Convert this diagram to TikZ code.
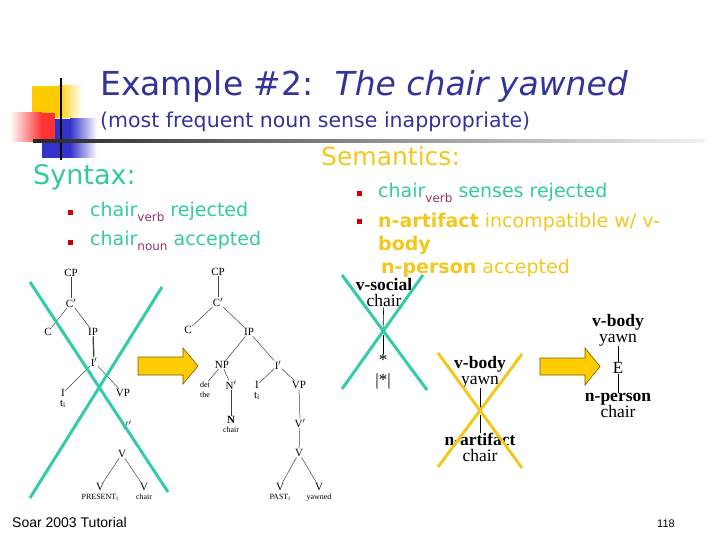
\documentclass[tikz,border=0pt]{standalone}
\usepackage{fontspec}
\setmainfont{Liberation Serif}
\newfontfamily\comicfont{DejaVu Sans}
\newfontfamily\footfont{Liberation Sans}
\usetikzlibrary{positioning}
\definecolor{titlenavy}{HTML}{333399}
\definecolor{syntaxteal}{HTML}{33CC99}
\definecolor{crossteal}{HTML}{33CCAA}
\definecolor{semgold}{HTML}{F2C81E}
\definecolor{subpurple}{HTML}{993366}
\definecolor{bulletred}{HTML}{CC0000}
\definecolor{logoblue}{HTML}{3333CC}
\definecolor{logoyellow}{HTML}{FFCC00}
\definecolor{logored}{HTML}{FF3333}
\newcommand{\subsc}[1]{\textcolor{subpurple}{\raisebox{-5pt}{\fontsize{12}{12}\selectfont #1}}}
\tikzset{
    tlab/.style={inner sep=0.5pt, font=\fontsize{11}{11}\selectfont},
    tleaf/.style={inner sep=0.5pt, font=\fontsize{8}{8}\selectfont},
    tedge/.style={draw=black!75, line width=0.5pt},
    sembox/.style={inner sep=0pt, align=center, font=\fontsize{17.5}{16}\selectfont},
    semword/.style={inner sep=0.5pt, font=\fontsize{17}{17}\selectfont},
    semmark/.style={inner sep=0.5pt, font=\fontsize{6}{6}\selectfont},
    semedge/.style={draw=black, line width=0.6pt},
    bullet/.style={fill=bulletred, inner sep=0pt, minimum size=5pt},
    greencross/.style={draw=crossteal, line width=3pt},
    goldcross/.style={draw=semgold, line width=3pt},
    bigarrow/.style={fill=logoyellow, draw=black!55!logoyellow, line width=0.6pt},
    heading/.style={anchor=base west, inner sep=0pt, font=\comicfont\fontsize{27}{29}\selectfont},
    point/.style={anchor=base west, inner sep=0pt, font=\comicfont\fontsize{19}{21}\selectfont}
}
\begin{document}
\begin{tikzpicture}[x=1pt, y=-1pt]
    \useasboundingbox (0,0) rectangle (720,540);

    % logo and rule
    \fill[logoyellow] (32,86) rectangle (58,118);
    \shade[left color=logoyellow, right color=white] (58,86) rectangle (82,118);
    \fill[logoblue] (42,119) rectangle (70,158);
    \shade[left color=logoblue, right color=white] (70,119) rectangle (97,158);
    \shade[left color=white, right color=logored] (10,113) rectangle (42,142);
    \fill[logored] (42,113) rectangle (55,142);
    \draw[line width=1.5pt] (61,78) -- (61,160);
    \shade[left color=black!85, middle color=black!45, right color=black!5] (33,140) rectangle (705,142.5);

    \node[anchor=base west, inner sep=0pt, text=titlenavy, font=\comicfont\fontsize{33}{35}\selectfont] (title) at (100,96) {Example \#2:\ \ \textit{The chair yawned}};
    \node[anchor=base west, inner sep=0pt, text=titlenavy, font=\comicfont\fontsize{20.5}{23}\selectfont] (subtitle) at (100,128) {(most frequent noun sense inappropriate)};

    % syntax
    \node[heading, text=syntaxteal] (syntax) at (33,185) {Syntax:};
    \node[bullet] (synb1) at (70,213) {};
    \node[bullet] (synb2) at (70,242) {};
    \node[point, text=syntaxteal] (syn1) at (90,217) {chair\subsc{verb} rejected};
    \node[point, text=syntaxteal] (syn2) at (90,245) {chair\subsc{noun} accepted};

    % semantics
    \node[heading, text=semgold, font=\comicfont\fontsize{25}{27}\selectfont] (semantics) at (321,166) {Semantics:};
    \node[bullet] (semb1) at (359,194) {};
    \node[bullet] (semb2) at (359,222) {};
    \node[point, text=syntaxteal] (sem1) at (378,198) {chair\subsc{verb} senses rejected};
    \node[point, text=semgold] (sem2) at (378,227) {\textbf{n-artifact} incompatible w/ v-};
    \node[point, text=semgold] (sem3) at (378,251) {\textbf{body}};
    \node[point, text=semgold] (sem4) at (381,273) {\textbf{n-person} accepted};

    % left parse tree
    \node[tlab] (lCP) at (71,273) {CP};
    \node[tlab] (lCb) at (71,303) {C$'$};
    \node[tlab] (lC) at (48,332) {C};
    \node[tlab] (lIP) at (93,332) {IP};
    \node[tlab] (lIb) at (94,362) {I$'$};
    \node[tlab] (lI) at (63,393) {I};
    \node[tlab, below=2pt of lI] (lti) {t\textsubscript{i}};
    \node[tlab] (lVP) at (123,393) {VP};
    \node[tlab] (lVb) at (126,425) {V$'$};
    \node[tlab] (lV) at (122,454) {V};
    \node[tlab] (lVa) at (100,487) {V};
    \node[tleaf, below=2pt of lVa] (lpres) {PRESENT\textsubscript{i}};
    \node[tlab] (lVc) at (144,487) {V};
    \node[tleaf, below=2pt of lVc] (lchair) {chair};
    \foreach \a/\b in {lCP/lCb, lCb/lC, lCb/lIP, lIb/lI, lIb/lVP, lV/lVa, lV/lVc}
        \draw[tedge] (\a) -- (\b);
    \draw[tedge, line width=1.3pt] (lIP) -- (lIb);

    % right parse tree
    \node[tlab] (rCP) at (218,272) {CP};
    \node[tlab] (rCb) at (218,302) {C$'$};
    \node[tlab] (rC) at (188,330) {C};
    \node[tlab] (rIP) at (249,332) {IP};
    \node[tlab] (rNP) at (222,365) {NP};
    \node[tlab] (rIb) at (278,365) {I$'$};
    \node[tleaf] (rdet) at (205,385) {det};
    \node[tleaf, below=3pt of rdet] (rthe) {the};
    \node[tlab] (rNb) at (231,385) {N$'$};
    \node[tlab, font=\fontsize{11}{11}\selectfont\bfseries] (rN) at (231,420) {N};
    \node[tleaf, below=1.5pt of rN] (rnoun) {chair};
    \node[tlab] (rI) at (257,385) {I};
    \node[tlab, below=2pt of rI] (rti) {t\textsubscript{i}};
    \node[tlab] (rVP) at (299,385) {VP};
    \node[tlab] (rVb) at (300,423) {V$'$};
    \node[tlab] (rV) at (299,453) {V};
    \node[tlab] (rVa) at (280,487) {V};
    \node[tleaf, below=2pt of rVa] (rpast) {PAST\textsubscript{i}};
    \node[tlab] (rVc) at (319,487) {V};
    \node[tleaf, below=2pt of rVc] (ryawned) {yawned};
    \foreach \a/\b in {rCP/rCb, rCb/rC, rCb/rIP, rIP/rNP, rIP/rIb, rNP/rdet, rNP/rNb, rNb/rN,
                       rIb/rI, rIb/rVP, rVP/rVb, rVb/rV, rV/rVa, rV/rVc}
        \draw[tedge] (\a) -- (\b);

    % arrows
    \draw[bigarrow] (138,357) -- (183,357) -- (183,348) -- (198,366) -- (183,384) -- (183,375) -- (138,375) -- cycle;
    \draw[bigarrow] (540,358) -- (585,358) -- (585,348) -- (600,366.5) -- (585,385) -- (585,375) -- (540,375) -- cycle;

    % semantic structures
    \node[sembox] (vsocial) at (384,293) {\textbf{v-social}\\chair};
    \node[semmark] (dotA) at (383,332) {E};
    \node[semword] (star) at (383,360) {*};
    \node[semword] (starbar) at (383,381) {|*|};
    \draw[semedge] (vsocial) -- (dotA);
    \draw[semedge] (dotA) -- (star);

    \node[sembox] (vbodyA) at (480,372) {\textbf{v-body}\\yawn};
    \node[semmark] (dotB) at (480,412) {E};
    \node[sembox] (nartifact) at (480,447) {\textbf{n-artifact}\\chair};
    \draw[semedge] (vbodyA) -- (dotB);
    \draw[semedge] (dotB) -- (nartifact);

    \node[sembox] (vbodyB) at (618,330) {\textbf{v-body}\\yawn};
    \node[semword] (evt) at (618,368) {E};
    \node[sembox] (nperson) at (618,405) {\textbf{n-person}\\chair};
    \draw[semedge] (vbodyB) -- (evt);
    \draw[semedge] (evt) -- (nperson);

    % crossed out
    \draw[greencross] (30,282) -- (168,492);
    \draw[greencross] (162,287) -- (30,498);
    \draw[greencross] (342,275) -- (427,390);
    \draw[greencross] (423,275) -- (342,389);
    \draw[goldcross] (438,353) -- (522,468);
    \draw[goldcross] (522,354) -- (438,467);

    % footer
    \node[anchor=base west, inner sep=0pt, font=\footfont\fontsize{14}{14}\selectfont] (footer) at (12,527) {Soar 2003 Tutorial};
    \node[anchor=base west, inner sep=0pt, font=\footfont\fontsize{11}{11}\selectfont] (pageno) at (657,527) {118};
\end{tikzpicture}
\end{document}
